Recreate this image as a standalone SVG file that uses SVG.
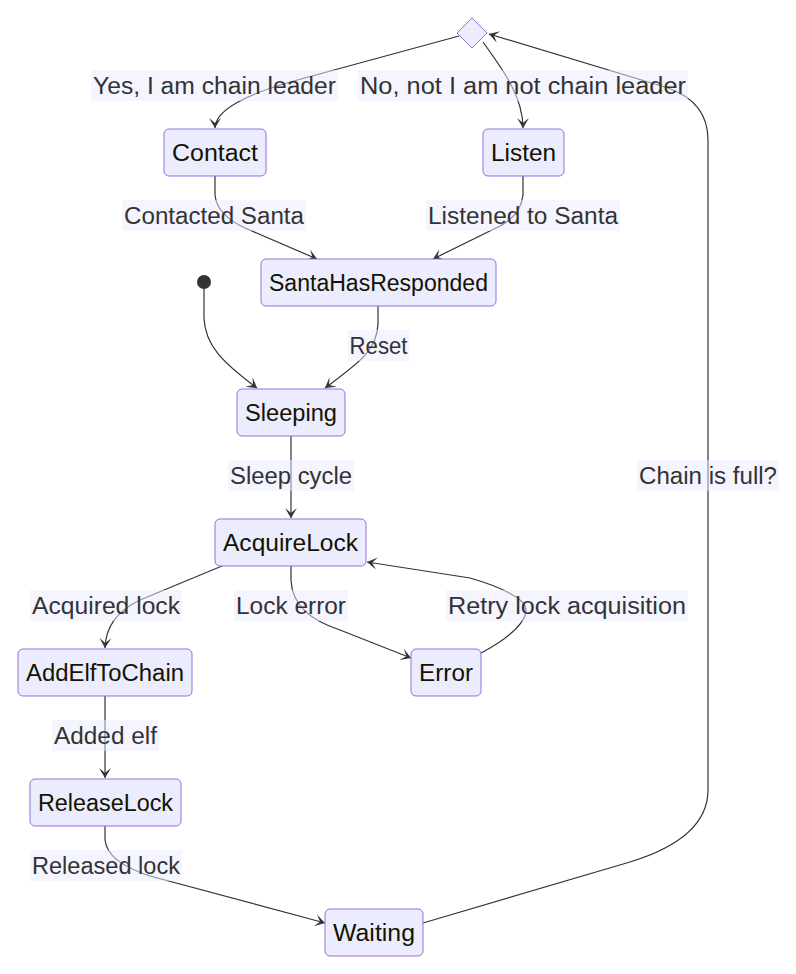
<svg xmlns="http://www.w3.org/2000/svg" width="796" height="974" viewBox="0 0 796 974">
<style>
.node rect{fill:#ECECFF;stroke:#9370DB;stroke-width:1}
.node text{font-family:"Liberation Sans",Arial,sans-serif;font-size:23.5px;fill:#131300;text-anchor:middle;dominant-baseline:central}
.edge{fill:none;stroke:#333;stroke-width:1.2;marker-end:url(#barb)}
.lbl rect{fill:#ECECFF;opacity:0.5}
.lbl text{font-family:"Liberation Sans",Arial,sans-serif;font-size:23.5px;fill:#333;text-anchor:middle;dominant-baseline:central}
</style>
<defs>
<marker id="barb" viewBox="0 0 20 14" refX="19" refY="7" markerWidth="20" markerHeight="14" markerUnits="userSpaceOnUse" orient="auto">
<path d="M19,7 L9,13 L14,7 L9,1 Z" fill="#333"/>
</marker>
</defs>
<rect width="796" height="974" fill="#fff"/>
<g id="connectors">
<path class="edge" d="M459,36 L290,82 Q215,104 215,128"/>
<path class="edge" d="M483,42 C500,66 523,95 523,128"/>
<path class="edge" d="M423,923 L630,862 Q708,838 708,790 L708,140 Q708,102 668,88 L489,34"/>
<path class="edge" d="M215,176 L215,195 Q217,215 245,228 L317,259"/>
<path class="edge" d="M523,176 L523,195 Q521,215 500,226 L433,259"/>
<path class="edge" d="M204,289 L204,318 C205,345 222,362 257,388"/>
<path class="edge" d="M378,306 L378,324 C377,350 360,362 325,388"/>
<path class="edge" d="M291,436 L291,518"/>
<path class="edge" d="M222,566 L140,600 Q106,616 105,648"/>
<path class="edge" d="M291,566 L291,580 C292,605 310,620 340,630 L411,658"/>
<path class="edge" d="M481,653 C520,632 535,612 520,600 Q505,588 470,578 L367,562"/>
<path class="edge" d="M105,696 L105,778"/>
<path class="edge" d="M105,826 L105,840 C107,855 120,866 150,876 L325,923"/>
</g>
<g id="edge-labels">
<g class="lbl"><rect x="91" y="70" width="247" height="31"/><text x="214.5" y="85.5" textLength="243" lengthAdjust="spacingAndGlyphs">Yes, I am chain leader</text></g>
<g class="lbl"><rect x="358" y="70" width="330" height="31"/><text x="523" y="85.5" textLength="326" lengthAdjust="spacingAndGlyphs">No, not I am not chain leader</text></g>
<g class="lbl"><rect x="122" y="200" width="184" height="31"/><text x="214" y="215.5" textLength="180" lengthAdjust="spacingAndGlyphs">Contacted Santa</text></g>
<g class="lbl"><rect x="426" y="200" width="194" height="31"/><text x="523" y="215.5" textLength="190" lengthAdjust="spacingAndGlyphs">Listened to Santa</text></g>
<g class="lbl"><rect x="348" y="330" width="61" height="31"/><text x="378.5" y="345.5" textLength="58" lengthAdjust="spacingAndGlyphs">Reset</text></g>
<g class="lbl"><rect x="228" y="460" width="126" height="31"/><text x="291" y="475.5" textLength="122" lengthAdjust="spacingAndGlyphs">Sleep cycle</text></g>
<g class="lbl"><rect x="637" y="460" width="142" height="31"/><text x="708" y="475.5" textLength="138" lengthAdjust="spacingAndGlyphs">Chain is full?</text></g>
<g class="lbl"><rect x="30" y="590" width="152" height="31"/><text x="106" y="605.5" textLength="148" lengthAdjust="spacingAndGlyphs">Acquired lock</text></g>
<g class="lbl"><rect x="234" y="590" width="114" height="31"/><text x="291" y="605.5" textLength="110" lengthAdjust="spacingAndGlyphs">Lock error</text></g>
<g class="lbl"><rect x="446" y="590" width="242" height="31"/><text x="567" y="605.5" textLength="238" lengthAdjust="spacingAndGlyphs">Retry lock acquisition</text></g>
<g class="lbl"><rect x="52" y="720" width="107" height="31"/><text x="105.5" y="735.5" textLength="103" lengthAdjust="spacingAndGlyphs">Added elf</text></g>
<g class="lbl"><rect x="30" y="850" width="152" height="31"/><text x="106" y="865.5" textLength="148" lengthAdjust="spacingAndGlyphs">Released lock</text></g>
</g>
<g id="choice"><polygon points="472,18 487,33 472,48 457,33" fill="#ECECFF" stroke="#9370DB" stroke-width="1"/></g>
<g id="start"><circle cx="204" cy="282" r="7" fill="#333"/></g>
<g id="Contact" class="node"><rect x="164" y="129" width="102" height="47" rx="5"/><text x="215" y="152.5" textLength="86" lengthAdjust="spacingAndGlyphs">Contact</text></g>
<g id="Listen" class="node"><rect x="483" y="129" width="81" height="47" rx="5"/><text x="523.5" y="152.5" textLength="65" lengthAdjust="spacingAndGlyphs">Listen</text></g>
<g id="SantaHasResponded" class="node"><rect x="261" y="259" width="235" height="47" rx="5"/><text x="378.5" y="282.5" textLength="219" lengthAdjust="spacingAndGlyphs">SantaHasResponded</text></g>
<g id="Sleeping" class="node"><rect x="237" y="389" width="108" height="47" rx="5"/><text x="291" y="412.5" textLength="92" lengthAdjust="spacingAndGlyphs">Sleeping</text></g>
<g id="AcquireLock" class="node"><rect x="215" y="519" width="151" height="47" rx="5"/><text x="290.5" y="542.5" textLength="135" lengthAdjust="spacingAndGlyphs">AcquireLock</text></g>
<g id="AddElfToChain" class="node"><rect x="18" y="649" width="174" height="47" rx="5"/><text x="105" y="672.5" textLength="158" lengthAdjust="spacingAndGlyphs">AddElfToChain</text></g>
<g id="Error" class="node"><rect x="411" y="649" width="70" height="47" rx="5"/><text x="446" y="672.5" textLength="54" lengthAdjust="spacingAndGlyphs">Error</text></g>
<g id="ReleaseLock" class="node"><rect x="30" y="779" width="151" height="47" rx="5"/><text x="105.5" y="802.5" textLength="135" lengthAdjust="spacingAndGlyphs">ReleaseLock</text></g>
<g id="Waiting" class="node"><rect x="325" y="909" width="98" height="47" rx="5"/><text x="374" y="932.5" textLength="82" lengthAdjust="spacingAndGlyphs">Waiting</text></g>
</svg>
